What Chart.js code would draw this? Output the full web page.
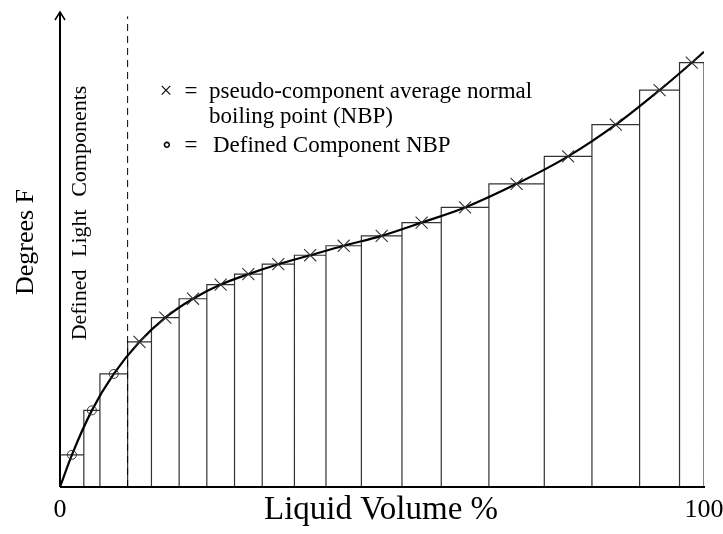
<!DOCTYPE html>
<html>
<head>
<meta charset="utf-8">
<script src="https://cdn.jsdelivr.net/npm/chart.js@4.4.1/dist/chart.umd.min.js"></script>
<style>
  html, body { margin: 0; padding: 0; background: #fff; }
  canvas { display: block; }
</style>
</head>
<body>
<canvas id="tbpChart" width="723" height="534"></canvas>
<script>
// cut edges along the distillation curve (liquid volume %)
const volumeEdges = [0, 3.7, 6.2, 10.5, 14.2, 18.5, 22.8, 27.1, 31.4, 36.4, 41.3, 46.8, 53.1, 59.2, 66.6, 75.2, 82.6, 90.0, 96.2, 100];
// normal boiling point of each cut (arbitrary degrees F, axis has no ticks)
const cutTemps = [68, 162, 239, 307, 358, 398, 428, 450, 471, 490, 510, 531, 559, 591, 641, 699, 766, 839, 897];
const definedCount = 3;      // first cuts are defined light components
const lightCutoff = 10.5;    // dashed line position
const curveStart = 0;
const curveEnd = 920;        // curve value at 100 %
const xTicks = [0, 100];
const yMax = 1000;

// bar outlines: one path walking over every cut
const barPath = [];
for (let i = 0; i < cutTemps.length; i++) {
    barPath.push({x: volumeEdges[i], y: 0});
    barPath.push({x: volumeEdges[i], y: cutTemps[i]});
    barPath.push({x: volumeEdges[i + 1], y: cutTemps[i]});
    barPath.push({x: volumeEdges[i + 1], y: 0});
}

const midPoints = cutTemps.map((t, i) => ({x: (volumeEdges[i] + volumeEdges[i + 1]) / 2, y: t}));
const definedPoints = midPoints.slice(0, definedCount);
const pseudoPoints = midPoints.slice(definedCount);
const curvePoints = [{x: 0, y: curveStart}].concat(midPoints, [{x: 100, y: curveEnd}]);

const serif = "'Liberation Serif', 'DejaVu Serif', serif";

const decorPlugin = {
    id: 'decor',
    afterDatasetsDraw(chart) {
        const ctx = chart.ctx;
        const xs = chart.scales.x, ys = chart.scales.y;
        const x0 = xs.getPixelForValue(0), x1 = xs.getPixelForValue(100);
        const y0 = ys.getPixelForValue(0);
        ctx.save();
        ctx.strokeStyle = '#000';
        ctx.lineWidth = 2;
        // axes
        ctx.beginPath();
        ctx.moveTo(x0, y0);
        ctx.lineTo(x1 + 1, y0);
        ctx.moveTo(x0, y0);
        ctx.lineTo(x0, 13);
        ctx.stroke();
        ctx.lineWidth = 1.5;
        ctx.beginPath();
        ctx.moveTo(x0 - 5, 20);
        ctx.lineTo(x0, 12);
        ctx.lineTo(x0 + 5, 20);
        ctx.stroke();

        ctx.fillStyle = '#000';
        ctx.textBaseline = 'middle';
        ctx.textAlign = 'center';
        ctx.font = '26px ' + serif;
        xTicks.forEach(v => ctx.fillText(String(v), xs.getPixelForValue(v), 510));
        ctx.font = '33px ' + serif;
        ctx.fillText('Liquid Volume %', 381, 510);

        ctx.save();
        ctx.translate(26, 242);
        ctx.rotate(-Math.PI / 2);
        ctx.font = '26px ' + serif;
        ctx.fillText('Degrees F', 0, 0);
        ctx.restore();

        ctx.save();
        ctx.translate(80, 213);
        ctx.rotate(-Math.PI / 2);
        ctx.font = '22px ' + serif;
        if ('wordSpacing' in ctx) ctx.wordSpacing = '7px';
        ctx.fillText('Defined Light Components', 0, 0);
        ctx.restore();

        // legend text
        ctx.textBaseline = 'alphabetic';
        ctx.font = '23px ' + serif;
        ctx.fillText('\u00d7', 166, 98);
        ctx.fillText('=', 191, 98);
        ctx.fillText('\u2218', 167, 152);
        ctx.fillText('=', 191, 152);
        ctx.textAlign = 'left';
        ctx.fillText('pseudo-component average normal', 209, 98);
        ctx.fillText('boiling point (NBP)', 209, 123);
        ctx.fillText('Defined Component NBP', 213, 152);
        ctx.restore();
    }
};

const tbpCtx = document.getElementById('tbpChart').getContext('2d');
const tbpChart = new Chart(tbpCtx, {
    type: 'scatter',
    data: {
        datasets: [{
            label: 'Cuts',
            data: barPath,
            showLine: true,
            borderColor: '#333',
            borderWidth: 1.2,
            pointRadius: 0,
            order: 4
        }, {
            label: 'Light cutoff',
            data: [{x: lightCutoff, y: 0}, {x: lightCutoff, y: yMax * 0.995}],
            showLine: true,
            borderColor: '#000',
            borderWidth: 1,
            borderDash: [7, 5],
            pointRadius: 0,
            order: 3
        }, {
            label: 'TBP curve',
            data: curvePoints,
            showLine: true,
            borderColor: '#000',
            borderWidth: 2.2,
            cubicInterpolationMode: 'monotone',
            pointRadius: 0,
            order: 2
        }, {
            label: 'Defined Component NBP',
            data: definedPoints,
            pointStyle: 'circle',
            pointRadius: 4.5,
            borderColor: '#333',
            backgroundColor: 'rgba(0,0,0,0)',
            borderWidth: 1,
            order: 1
        }, {
            label: 'pseudo-component average normal boiling point (NBP)',
            data: pseudoPoints,
            pointStyle: 'crossRot',
            pointRadius: 8.5,
            borderColor: '#333',
            borderWidth: 1.1,
            order: 1
        }]
    },
    options: {
        responsive: false,
        animation: false,
        layout: {
            padding: {left: 60, right: 19, top: 14, bottom: 47}
        },
        plugins: {
            legend: {display: false},
            tooltip: {enabled: false}
        },
        scales: {
            x: {type: 'linear', min: 0, max: 100, display: false},
            y: {type: 'linear', min: 0, max: yMax, display: false}
        }
    },
    plugins: [decorPlugin]
});
</script>
</body>
</html>
